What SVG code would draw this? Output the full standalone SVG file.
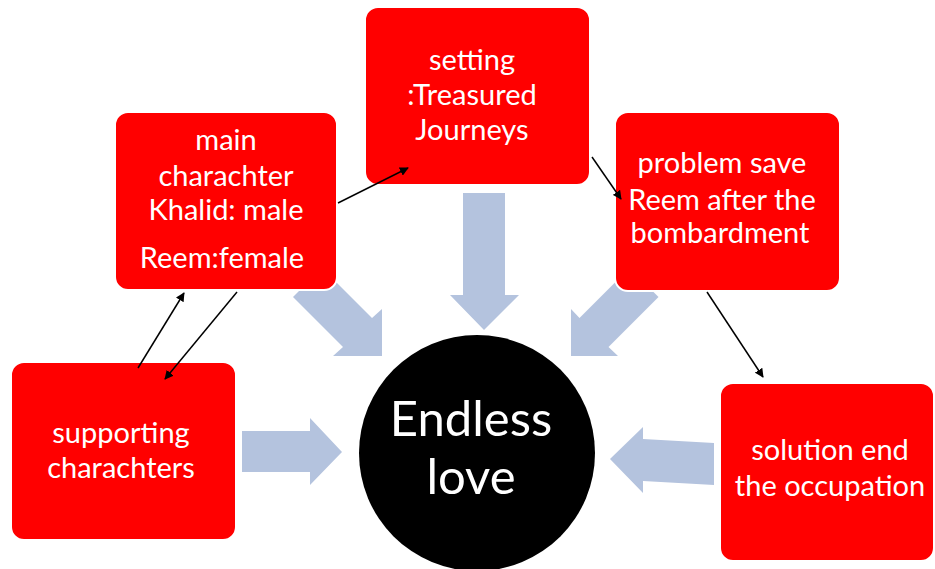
<svg xmlns="http://www.w3.org/2000/svg" width="935" height="569" viewBox="0 0 935 569">
  <defs>
    <style>
      .box { fill: #FF0000; stroke: #FFFFFF; stroke-width: 2; }
      .blk { fill: #B4C3DE; }
      .lbl { font-family: Lato, "Open Sans", "Liberation Sans", sans-serif; font-size: 29px; fill: #FFFFFF; text-anchor: middle; }
      .big { font-family: Lato, "Open Sans", "Liberation Sans", sans-serif; font-size: 49px; fill: #FFFFFF; text-anchor: middle; }
      .con { stroke: #000000; stroke-width: 1.5; fill: none; marker-end: url(#ah); }
    </style>
    <marker id="ah" viewBox="0 0 10 10" refX="9" refY="5" markerWidth="9" markerHeight="9" markerUnits="userSpaceOnUse" orient="auto">
      <path d="M0,0 L10,5 L0,10 z" fill="#000000"/>
    </marker>
  </defs>
  <rect width="935" height="569" fill="#FFFFFF"/>

  <g id="block-arrows">
    <polygon class="blk" points="293,297 343,347 333,356 382,356 382,309 372,318 322,268"/>
    <polygon class="blk" points="463,193 505,193 505,295 519,295 484,330 450,295 463,295"/>
    <polygon class="blk" points="571,356 571,309 579.5,318 629.5,268 658.5,297 608.5,347 618,356"/>
    <polygon class="blk" points="242,431 310,431 310,418 342,452 310,485 310,472 242,472"/>
    <polygon class="blk" points="610,459 643,427 643,439 714,443 714,485 643,481 643,493"/>
  </g>

  <g id="center">
    <circle cx="477" cy="453" r="118" fill="#000000"/>
    <text class="big" x="471" y="436">Endless</text>
    <text class="big" x="471" y="494">love</text>
  </g>

  <g id="main-character">
    <rect class="box" x="115" y="112" width="222" height="178" rx="13"/>
    <text class="lbl" x="226" y="150">main</text>
    <text class="lbl" x="226" y="186">charachter</text>
    <text class="lbl" x="226" y="220">Khalid: male</text>
    <text class="lbl" x="222" y="268">Reem:female</text>
  </g>

  <g id="setting">
    <rect class="box" x="365" y="7" width="225" height="178" rx="13"/>
    <text class="lbl" x="472" y="70">setting</text>
    <text class="lbl" x="472" y="105">:Treasured</text>
    <text class="lbl" x="472" y="140">Journeys</text>
  </g>

  <g id="problem">
    <rect class="box" x="615" y="112" width="225" height="179" rx="13"/>
    <text class="lbl" x="722" y="173">problem save</text>
    <text class="lbl" x="722" y="210">Reem after the</text>
    <text class="lbl" x="720" y="243">bombardment</text>
  </g>

  <g id="supporting">
    <rect class="box" x="11" y="362" width="225" height="178" rx="13"/>
    <text class="lbl" x="121" y="443">supporting</text>
    <text class="lbl" x="121" y="478">charachters</text>
  </g>

  <g id="solution">
    <rect class="box" x="720" y="383" width="214" height="178" rx="13"/>
    <text class="lbl" x="830" y="460">solution end</text>
    <text class="lbl" x="830" y="496">the occupation</text>
  </g>

  <g id="connectors">
    <line class="con" x1="338" y1="203" x2="408" y2="168"/>
    <line class="con" x1="592" y1="157" x2="621" y2="199"/>
    <line class="con" x1="707" y1="292" x2="763" y2="377"/>
    <line class="con" x1="138" y1="368" x2="184" y2="293"/>
    <line class="con" x1="237" y1="292" x2="165" y2="379"/>
  </g>
</svg>
